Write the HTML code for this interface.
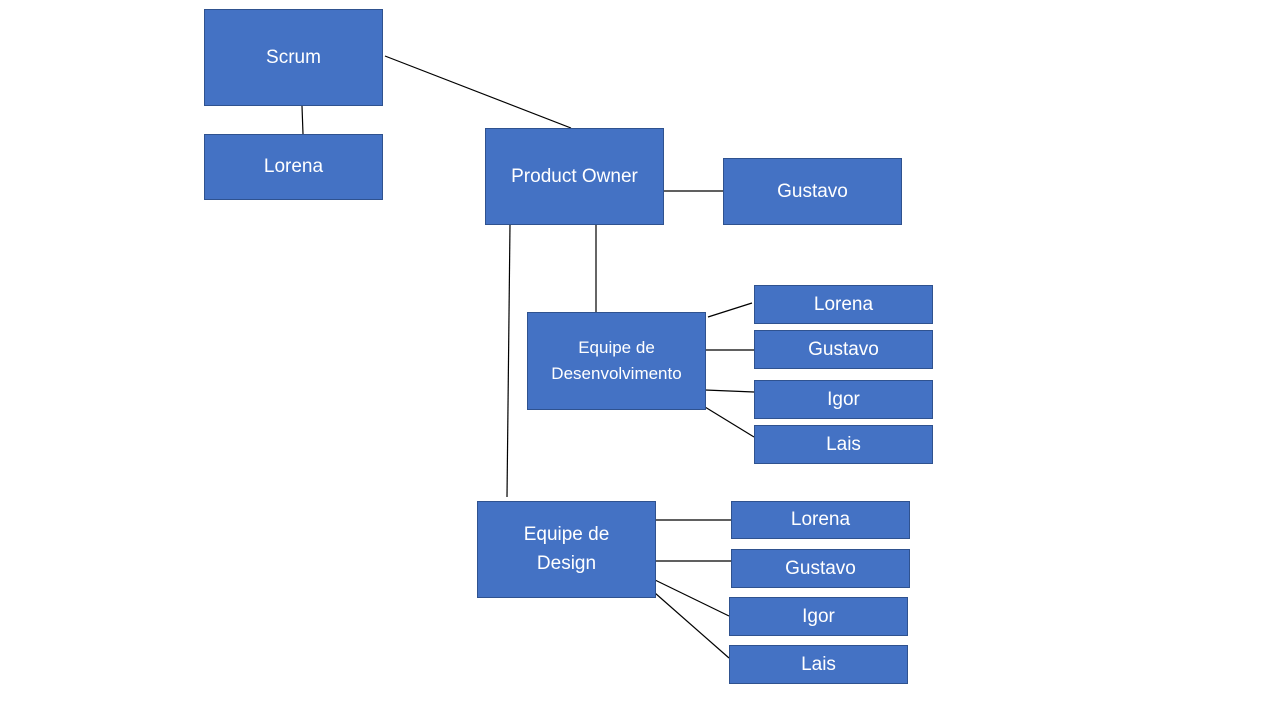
<!DOCTYPE html>
<html><head><meta charset="utf-8"><style>
body{margin:0;width:1280px;height:720px;background:#fff;position:relative;overflow:hidden;font-family:"Liberation Sans",sans-serif}
.b{position:absolute;box-sizing:border-box;background:#4472C4;border:1px solid #2F528F;color:#fff;display:flex;align-items:center;justify-content:center;text-align:center;font-size:19px;line-height:1.35}
svg{position:absolute;left:0;top:0}
</style></head><body>
<svg width="1280" height="720"><g stroke="#000" stroke-width="1.2">
<line x1="385" y1="56" x2="571" y2="128"/>
<line x1="302" y1="106" x2="303" y2="134"/>
<line x1="663" y1="191" x2="723" y2="191"/>
<line x1="596" y1="224" x2="596" y2="312"/>
<line x1="510" y1="224" x2="507" y2="497"/>
<line x1="708" y1="317" x2="752" y2="303"/>
<line x1="705" y1="350" x2="754" y2="350"/>
<line x1="705" y1="390" x2="754" y2="392"/>
<line x1="705" y1="407" x2="754" y2="437"/>
<line x1="655" y1="520" x2="731" y2="520"/>
<line x1="655" y1="561" x2="731" y2="561"/>
<line x1="655" y1="580" x2="729" y2="616"/>
<line x1="655" y1="593" x2="729" y2="658"/>
</g></svg>
<div class="b" style="left:204px;top:9px;width:179px;height:97px">Scrum</div>
<div class="b" style="left:204px;top:134px;width:179px;height:66px">Lorena</div>
<div class="b" style="left:485px;top:128px;width:179px;height:97px">Product Owner</div>
<div class="b" style="left:723px;top:158px;width:179px;height:67px">Gustavo</div>
<div class="b" style="left:527px;top:312px;width:179px;height:98px;font-size:17px;line-height:1.55">Equipe de<br>Desenvolvimento</div>
<div class="b" style="left:754px;top:285px;width:179px;height:39px">Lorena</div>
<div class="b" style="left:754px;top:330px;width:179px;height:39px">Gustavo</div>
<div class="b" style="left:754px;top:380px;width:179px;height:39px">Igor</div>
<div class="b" style="left:754px;top:425px;width:179px;height:39px">Lais</div>
<div class="b" style="left:477px;top:501px;width:179px;height:97px;line-height:1.48">Equipe de<br>Design</div>
<div class="b" style="left:731px;top:501px;width:179px;height:38px">Lorena</div>
<div class="b" style="left:731px;top:549px;width:179px;height:39px">Gustavo</div>
<div class="b" style="left:729px;top:597px;width:179px;height:39px">Igor</div>
<div class="b" style="left:729px;top:645px;width:179px;height:39px">Lais</div>
</body></html>
